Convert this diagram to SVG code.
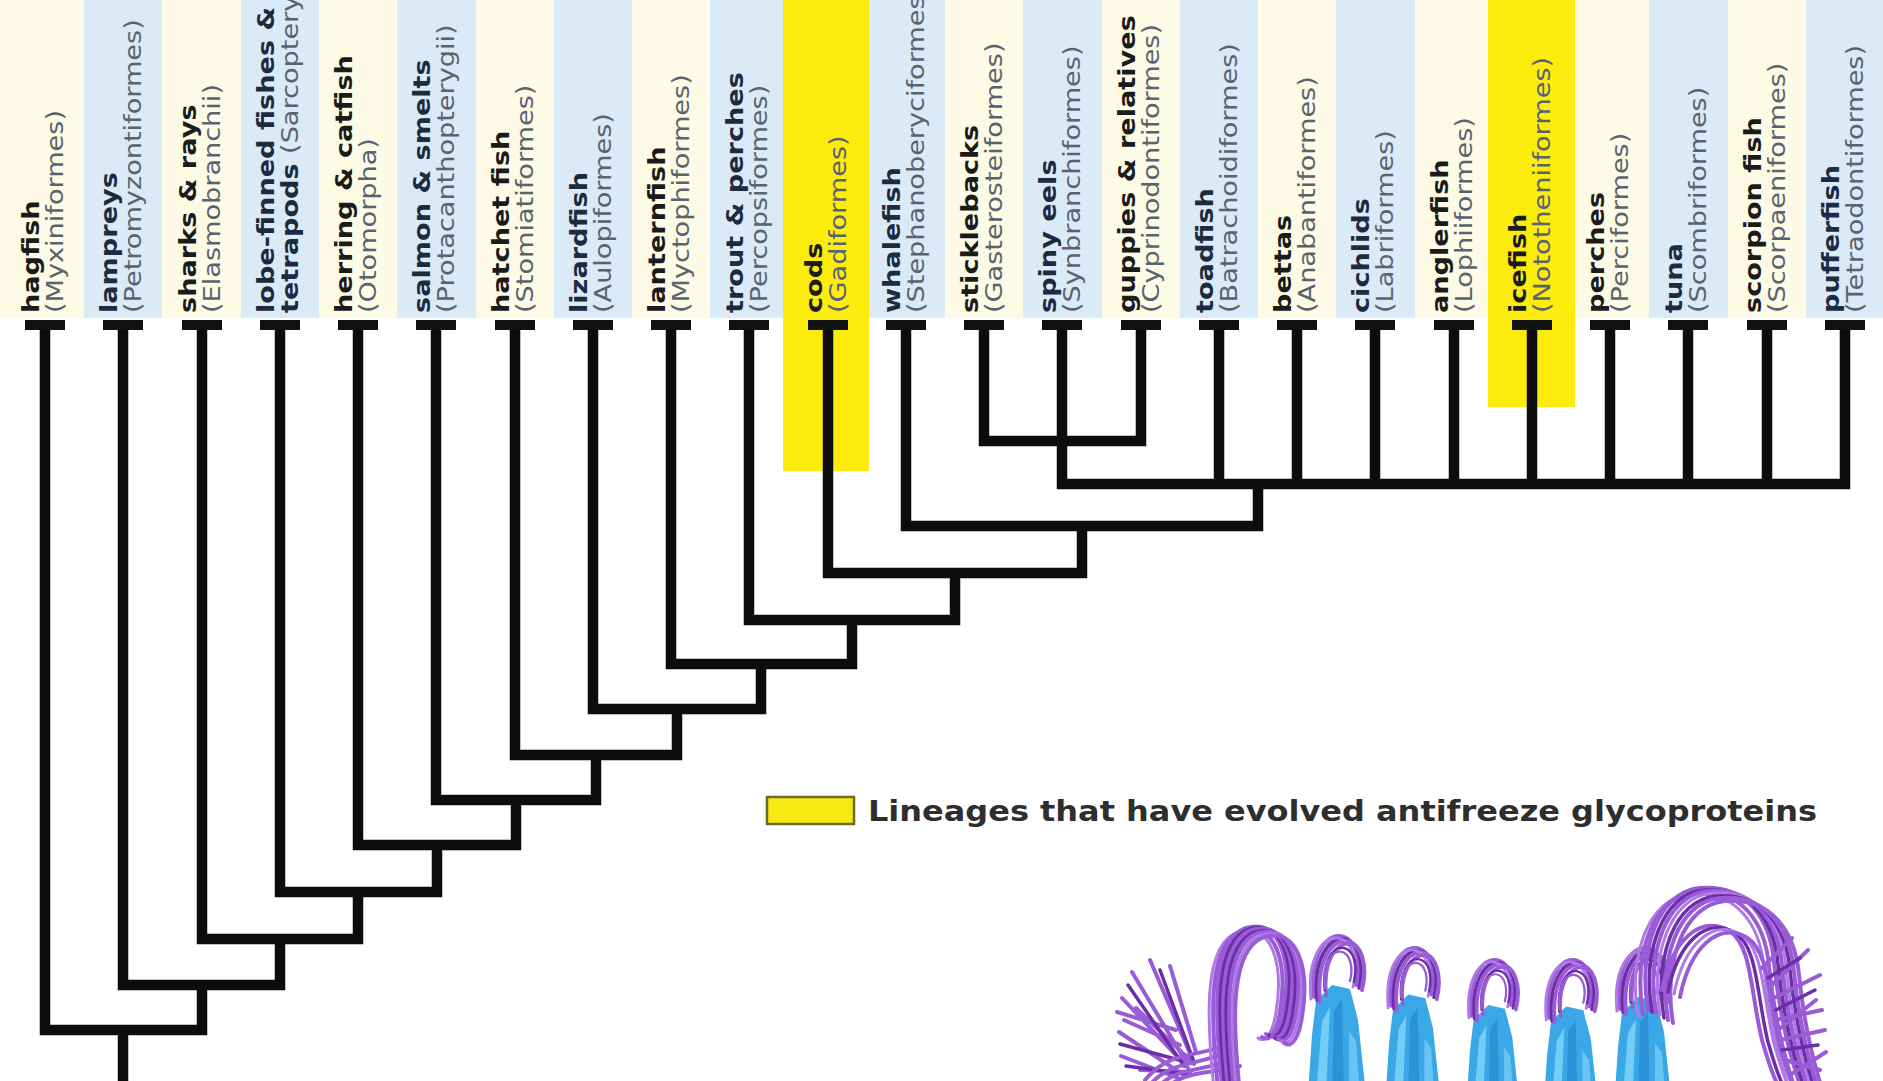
<svg xmlns="http://www.w3.org/2000/svg" width="1883" height="1081" viewBox="0 0 1883 1081">
  <style>
    .cream { fill: #fdfae6; }
    .blue { fill: #dbeaf7; }
    .hi { fill: #fcec0c; }
    .nm { font-family: "DejaVu Sans", Verdana, sans-serif; font-weight: bold; font-size: 23px; fill: #1b1b1b; }
    .nmb { font-family: "DejaVu Sans", Verdana, sans-serif; font-weight: bold; font-size: 23px; fill: #1c2b40; }
    .ord { font-family: "DejaVu Sans", Verdana, sans-serif; font-weight: normal; font-size: 23px; fill: #59636f; }
    .cap { fill: #111; }
    .edge { fill: none; stroke: #0c0c0c; stroke-width: 10.5; stroke-linejoin: miter; stroke-linecap: butt; }
    .legend-text { font-family: "DejaVu Sans", Verdana, sans-serif; font-weight: bold; font-size: 28px; fill: #2e2e2e; }
    .pu { fill: none; stroke: #9a5cd6; stroke-width: 4; stroke-linecap: round; }
    .pul { fill: none; stroke: #b07ae6; stroke-width: 3; stroke-linecap: round; }
    .pud { fill: none; stroke: #6c2ea6; stroke-width: 3.5; stroke-linecap: round; }
    .bl { fill: #3aa7e6; }
    .blh { fill: #74cdf6; }
    .bld { fill: #1f84c6; }
  </style>

  <!-- column backgrounds behind the labels -->
  <g id="bands">
    <rect class="cream" x="0" y="0" width="84" height="318"/>
    <rect class="blue" x="84" y="0" width="78" height="318"/>
    <rect class="cream" x="162" y="0" width="79" height="318"/>
    <rect class="blue" x="241" y="0" width="78" height="318"/>
    <rect class="cream" x="319" y="0" width="78" height="318"/>
    <rect class="blue" x="397" y="0" width="79" height="318"/>
    <rect class="cream" x="476" y="0" width="78" height="318"/>
    <rect class="blue" x="554" y="0" width="78" height="318"/>
    <rect class="cream" x="632" y="0" width="78" height="318"/>
    <rect class="blue" x="710" y="0" width="79" height="318"/>
    <rect class="cream" x="789" y="0" width="78" height="318"/>
    <rect class="blue" x="867" y="0" width="78" height="318"/>
    <rect class="cream" x="945" y="0" width="78" height="318"/>
    <rect class="blue" x="1023" y="0" width="79" height="318"/>
    <rect class="cream" x="1102" y="0" width="78" height="318"/>
    <rect class="blue" x="1180" y="0" width="78" height="318"/>
    <rect class="cream" x="1258" y="0" width="78" height="318"/>
    <rect class="blue" x="1336" y="0" width="79" height="318"/>
    <rect class="cream" x="1415" y="0" width="78" height="318"/>
    <rect class="blue" x="1493" y="0" width="78" height="318"/>
    <rect class="cream" x="1571" y="0" width="78" height="318"/>
    <rect class="blue" x="1649" y="0" width="79" height="318"/>
    <rect class="cream" x="1728" y="0" width="78" height="318"/>
    <rect class="blue" x="1806" y="0" width="77" height="318"/>
    <!-- lineages with antifreeze glycoproteins -->
    <rect class="hi" x="783" y="0" width="86" height="471"/>
    <rect class="hi" x="1488" y="0" width="87" height="407"/>
  </g>

  <!-- branches of the tree -->
  <g id="connectors">
    <path class="edge" d="M984,325 V441 H1141 V325"/>
    <path class="edge" d="M1062,325 V484 H1845 V325"/>
    <path class="edge" d="M1219,325 V484 M1297,325 V484 M1375,325 V484 M1454,325 V484 M1532,325 V484 M1610,325 V484 M1688,325 V484 M1767,325 V484"/>
    <path class="edge" d="M906,325 V526 H1258 V484"/>
    <path class="edge" d="M828,325 V573 H1082 V526"/>
    <path class="edge" d="M749,325 V620 H955 V573"/>
    <path class="edge" d="M671,325 V664 H852 V620"/>
    <path class="edge" d="M593,325 V709 H761 V664"/>
    <path class="edge" d="M515,325 V755 H677 V709"/>
    <path class="edge" d="M436,325 V800 H596 V755"/>
    <path class="edge" d="M358,325 V845 H516 V800"/>
    <path class="edge" d="M280,325 V892 H437 V845"/>
    <path class="edge" d="M202,325 V939 H358 V892"/>
    <path class="edge" d="M123,325 V985 H280 V939"/>
    <path class="edge" d="M45,325 V1030 H202 V985"/>
    <path class="edge" d="M123,1030 V1090"/>
  </g>

  <!-- taxa -->
  <g id="hagfish" transform="translate(45,313)">
    <rect class="cap" x="-20" y="7" width="40" height="10"/>
    <g transform="rotate(-90) scale(1.18,1)"><text class="nm" y="-6">hagfish</text><text class="ord" y="18">(Myxiniformes)</text></g>
  </g>
  <g id="lampreys" transform="translate(123,313)">
    <rect class="cap" x="-20" y="7" width="40" height="10"/>
    <g transform="rotate(-90) scale(1.18,1)"><text class="nmb" y="-6">lampreys</text><text class="ord" y="18">(Petromyzontiformes)</text></g>
  </g>
  <g id="sharks" transform="translate(202,313)">
    <rect class="cap" x="-20" y="7" width="40" height="10"/>
    <g transform="rotate(-90) scale(1.18,1)"><text class="nm" y="-6">sharks &amp; rays</text><text class="ord" y="18">(Elasmobranchii)</text></g>
  </g>
  <g id="lobefins" transform="translate(280,313)">
    <rect class="cap" x="-20" y="7" width="40" height="10"/>
    <g transform="rotate(-90) scale(1.18,1)"><text class="nmb" y="-6">lobe-finned fishes &amp;</text><text class="nmb" y="18">tetrapods <tspan class="ord">(Sarcopterygii)</tspan></text></g>
  </g>
  <g id="herring" transform="translate(358,313)">
    <rect class="cap" x="-20" y="7" width="40" height="10"/>
    <g transform="rotate(-90) scale(1.18,1)"><text class="nm" y="-6">herring &amp; catfish</text><text class="ord" y="18">(Otomorpha)</text></g>
  </g>
  <g id="salmon" transform="translate(436,313)">
    <rect class="cap" x="-20" y="7" width="40" height="10"/>
    <g transform="rotate(-90) scale(1.18,1)"><text class="nmb" y="-6">salmon &amp; smelts</text><text class="ord" y="18">(Protacanthopterygii)</text></g>
  </g>
  <g id="hatchetfish" transform="translate(515,313)">
    <rect class="cap" x="-20" y="7" width="40" height="10"/>
    <g transform="rotate(-90) scale(1.18,1)"><text class="nm" y="-6">hatchet fish</text><text class="ord" y="18">(Stomiatiformes)</text></g>
  </g>
  <g id="lizardfish" transform="translate(593,313)">
    <rect class="cap" x="-20" y="7" width="40" height="10"/>
    <g transform="rotate(-90) scale(1.18,1)"><text class="nmb" y="-6">lizardfish</text><text class="ord" y="18">(Aulopiformes)</text></g>
  </g>
  <g id="lanternfish" transform="translate(671,313)">
    <rect class="cap" x="-20" y="7" width="40" height="10"/>
    <g transform="rotate(-90) scale(1.18,1)"><text class="nm" y="-6">lanternfish</text><text class="ord" y="18">(Myctophiformes)</text></g>
  </g>
  <g id="trout" transform="translate(749,313)">
    <rect class="cap" x="-20" y="7" width="40" height="10"/>
    <g transform="rotate(-90) scale(1.18,1)"><text class="nmb" y="-6">trout &amp; perches</text><text class="ord" y="18">(Percopsiformes)</text></g>
  </g>
  <g id="cods" transform="translate(828,313)">
    <rect class="cap" x="-20" y="7" width="40" height="10"/>
    <g transform="rotate(-90) scale(1.18,1)"><text class="nm" y="-6">cods</text><text class="ord" y="18">(Gadiformes)</text></g>
  </g>
  <g id="whalefish" transform="translate(906,313)">
    <rect class="cap" x="-20" y="7" width="40" height="10"/>
    <g transform="rotate(-90) scale(1.18,1)"><text class="nmb" y="-6">whalefish</text><text class="ord" y="18">(Stephanoberyciformes)</text></g>
  </g>
  <g id="sticklebacks" transform="translate(984,313)">
    <rect class="cap" x="-20" y="7" width="40" height="10"/>
    <g transform="rotate(-90) scale(1.18,1)"><text class="nm" y="-6">sticklebacks</text><text class="ord" y="18">(Gasterosteiformes)</text></g>
  </g>
  <g id="spinyeels" transform="translate(1062,313)">
    <rect class="cap" x="-20" y="7" width="40" height="10"/>
    <g transform="rotate(-90) scale(1.18,1)"><text class="nmb" y="-6">spiny eels</text><text class="ord" y="18">(Synbranchiformes)</text></g>
  </g>
  <g id="guppies" transform="translate(1141,313)">
    <rect class="cap" x="-20" y="7" width="40" height="10"/>
    <g transform="rotate(-90) scale(1.18,1)"><text class="nm" y="-6">guppies &amp; relatives</text><text class="ord" y="18">(Cyprinodontiformes)</text></g>
  </g>
  <g id="toadfish" transform="translate(1219,313)">
    <rect class="cap" x="-20" y="7" width="40" height="10"/>
    <g transform="rotate(-90) scale(1.18,1)"><text class="nmb" y="-6">toadfish</text><text class="ord" y="18">(Batrachoidiformes)</text></g>
  </g>
  <g id="bettas" transform="translate(1297,313)">
    <rect class="cap" x="-20" y="7" width="40" height="10"/>
    <g transform="rotate(-90) scale(1.18,1)"><text class="nm" y="-6">bettas</text><text class="ord" y="18">(Anabantiformes)</text></g>
  </g>
  <g id="cichlids" transform="translate(1375,313)">
    <rect class="cap" x="-20" y="7" width="40" height="10"/>
    <g transform="rotate(-90) scale(1.18,1)"><text class="nmb" y="-6">cichlids</text><text class="ord" y="18">(Labriformes)</text></g>
  </g>
  <g id="anglerfish" transform="translate(1454,313)">
    <rect class="cap" x="-20" y="7" width="40" height="10"/>
    <g transform="rotate(-90) scale(1.18,1)"><text class="nm" y="-6">anglerfish</text><text class="ord" y="18">(Lophiiformes)</text></g>
  </g>
  <g id="icefish" transform="translate(1532,313)">
    <rect class="cap" x="-20" y="7" width="40" height="10"/>
    <g transform="rotate(-90) scale(1.18,1)"><text class="nm" y="-6">icefish</text><text class="ord" y="18">(Nototheniiformes)</text></g>
  </g>
  <g id="perches" transform="translate(1610,313)">
    <rect class="cap" x="-20" y="7" width="40" height="10"/>
    <g transform="rotate(-90) scale(1.18,1)"><text class="nm" y="-6">perches</text><text class="ord" y="18">(Perciformes)</text></g>
  </g>
  <g id="tuna" transform="translate(1688,313)">
    <rect class="cap" x="-20" y="7" width="40" height="10"/>
    <g transform="rotate(-90) scale(1.18,1)"><text class="nmb" y="-6">tuna</text><text class="ord" y="18">(Scombriformes)</text></g>
  </g>
  <g id="scorpionfish" transform="translate(1767,313)">
    <rect class="cap" x="-20" y="7" width="40" height="10"/>
    <g transform="rotate(-90) scale(1.18,1)"><text class="nm" y="-6">scorpion fish</text><text class="ord" y="18">(Scorpaeniformes)</text></g>
  </g>
  <g id="pufferfish" transform="translate(1845,313)">
    <rect class="cap" x="-20" y="7" width="40" height="10"/>
    <g transform="rotate(-90) scale(1.18,1)"><text class="nmb" y="-6">pufferfish</text><text class="ord" y="18">(Tetraodontiformes)</text></g>
  </g>

  <!-- legend -->
  <g id="legend">
    <rect x="767" y="797" width="87" height="27" fill="#f7ea14" stroke="#6f6a2a" stroke-width="2.5"/>
    <text class="legend-text" x="868" y="821" textLength="949" lengthAdjust="spacingAndGlyphs">Lineages that have evolved antifreeze glycoproteins</text>
  </g>

  <!-- antifreeze glycoprotein structure ensemble -->
  <defs>
    <path id="hairpin" d="M1222,1085 C1214,1010 1212,940 1246,928 C1280,918 1292,960 1284,1008 C1281,1028 1274,1040 1266,1034"/>
    <path id="tangle" d="M1648,1010 C1638,950 1658,892 1700,888 C1746,884 1770,918 1774,962 C1779,1012 1788,1050 1800,1085"/>
    <path id="tangle2" d="M1662,990 C1672,940 1700,915 1728,930 C1752,944 1750,990 1762,1040 C1768,1060 1772,1075 1778,1085"/>
    <path id="dome" d="M-22,62 C-26,20 -10,0 4,1 C20,3 26,26 20,50"/>
    <!-- one beta-strand pair with its turn, drawn from the top of the turn -->
    <g id="strand">
      <path class="bl" d="M-28,160 L-24,100 L-20,66 L-4,50 L14,54 L22,85 L30,160 Z"/>
      <path class="bld" d="M-4,160 L-2,76 L6,64 L8,160 Z" opacity="0.55"/>
      <path class="blh" d="M-20,160 L-14,86 L-6,72 L-10,160 Z"/>
      <path class="blh" d="M13,160 L13,96 L20,106 L24,160 Z" opacity="0.8"/>
      <use href="#dome" class="pu"/>
      <use href="#dome" class="pud" transform="translate(3,3)"/>
      <use href="#dome" class="pu" transform="translate(6,5)"/>
      <use href="#dome" class="pul" transform="translate(-3,2)"/>
      <use href="#dome" class="pu" transform="translate(9,8) scale(0.85)"/>
      <use href="#dome" class="pud" transform="translate(4,12) scale(0.7)"/>
      <use href="#dome" class="pu" transform="translate(2,16) scale(0.6)"/>
    </g>
  </defs>
  <g id="protein">
    <!-- left frayed end -->
    <path class="pu" d="M1188,1068 L1122,998 M1186,1062 L1132,972 M1192,1058 L1150,960 M1182,1074 L1119,1032 M1178,1078 L1121,1056 M1196,1052 L1170,966 M1176,1030 L1117,1012 M1180,1045 L1124,1020 M1190,1072 L1140,1070 M1194,1064 L1136,1008"/>
    <path class="pud" d="M1184,1066 L1128,985 M1179,1060 L1120,1044 M1194,1062 L1160,970 M1186,1074 L1126,1066"/>
    <path class="pu" d="M1150,1085 C1170,1060 1200,1066 1232,1050 M1160,1085 C1180,1066 1205,1072 1236,1058 M1145,1080 C1170,1050 1195,1058 1226,1045 M1170,1085 C1190,1070 1212,1074 1240,1066"/>
    <!-- tall hairpin loop -->
    <use href="#hairpin" class="pul" transform="translate(-8,4)"/>
    <use href="#hairpin" class="pu" transform="translate(-4,3)"/>
    <use href="#hairpin" class="pu"/>
    <use href="#hairpin" class="pud" transform="translate(3,1)"/>
    <use href="#hairpin" class="pu" transform="translate(6,2)"/>
    <use href="#hairpin" class="pud" transform="translate(9,4)"/>
    <use href="#hairpin" class="pu" transform="translate(12,5)"/>
    <use href="#hairpin" class="pul" transform="translate(15,7)"/>
    <use href="#hairpin" class="pu" transform="translate(18,9)"/>
    <!-- strands with turn caps -->
    <use href="#strand" transform="translate(1336,935)"/>
    <use href="#strand" transform="translate(1412,947) scale(0.95)"/>
    <use href="#strand" transform="translate(1492,959) scale(0.92)"/>
    <use href="#strand" transform="translate(1570,959) scale(0.95)"/>
    <use href="#strand" transform="translate(1642,947)"/>
    <!-- right tangle -->
    <use href="#tangle" class="pul" transform="translate(-10,6)"/>
    <use href="#tangle" class="pu" transform="translate(-5,4)"/>
    <use href="#tangle" class="pu"/>
    <use href="#tangle" class="pud" transform="translate(4,2)"/>
    <use href="#tangle" class="pu" transform="translate(8,3)"/>
    <use href="#tangle" class="pul" transform="translate(12,5)"/>
    <use href="#tangle" class="pud" transform="translate(16,8)"/>
    <use href="#tangle" class="pu" transform="translate(20,10)"/>
    <use href="#tangle" class="pu" transform="translate(25,13)"/>
    <use href="#tangle2" class="pu"/>
    <use href="#tangle2" class="pud" transform="translate(6,2)"/>
    <use href="#tangle2" class="pul" transform="translate(12,4)"/>
    <use href="#tangle2" class="pu" transform="translate(18,7)"/>
    <path class="pu" d="M1770,1000 L1820,975 M1775,1020 L1822,1010 M1780,1040 L1825,1030 M1772,985 L1808,950 M1785,1060 L1820,1070 M1762,968 L1792,938 M1790,1075 L1826,1052 M1778,1030 L1816,1000"/>
    <path class="pud" d="M1776,1010 L1815,990 M1782,1050 L1818,1045 M1768,978 L1800,958"/>
  </g>
</svg>
